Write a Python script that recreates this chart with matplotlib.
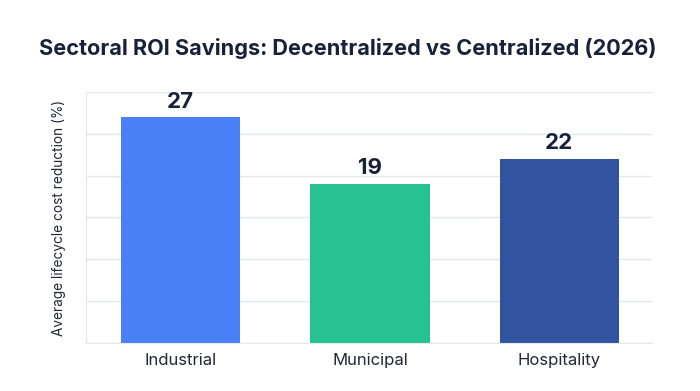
import matplotlib.pyplot as plt

plt.rcParams['font.family'] = ['Inter', 'DejaVu Sans']

sectors = ["Industrial", "Municipal", "Hospitality"]
savings = [27, 19, 22]
colors = ["#4a80f7", "#26c28f", "#3153a0"]

fig = plt.figure(figsize=(7, 3.91), dpi=100)
ax = fig.add_axes([0.1229, 0.1228, 0.8085, 0.6419])

bars = ax.bar(sectors, savings, width=0.63, color=colors, zorder=2)
for b, v in zip(bars, savings):
    ax.annotate(str(v), (b.get_x() + b.get_width() / 2, v), xytext=(0, 4),
                textcoords="offset points", ha="center", va="bottom",
                fontsize=16, fontweight="bold", color="#17213a")

ax.set_xlim(-0.5, 2.49)
ax.set_ylim(0, 30)
ax.set_yticks(range(0, 31, 5))
ax.set_yticklabels([])
ax.tick_params(axis="y", length=0)
ax.tick_params(axis="x", length=0, pad=7, labelsize=12, labelcolor="#1f2937")
ax.grid(axis="y", color="#e5e7eb", linewidth=1, zorder=0)
for s in ["top", "right"]:
    ax.spines[s].set_visible(False)
ax.spines["left"].set_color("#e5e7eb")
ax.spines["bottom"].set_color("#e5e7eb")
ax.set_ylabel("Average lifecycle cost reduction (%)", fontsize=9.8, color="#1f2937", labelpad=11)

fig.text(0.497, 0.875, "Sectoral ROI Savings: Decentralized vs Centralized (2026)",
         ha="center", va="center", fontsize=15.6, fontweight="bold", color="#17213a")

fig.savefig("out.png", dpi=100)
